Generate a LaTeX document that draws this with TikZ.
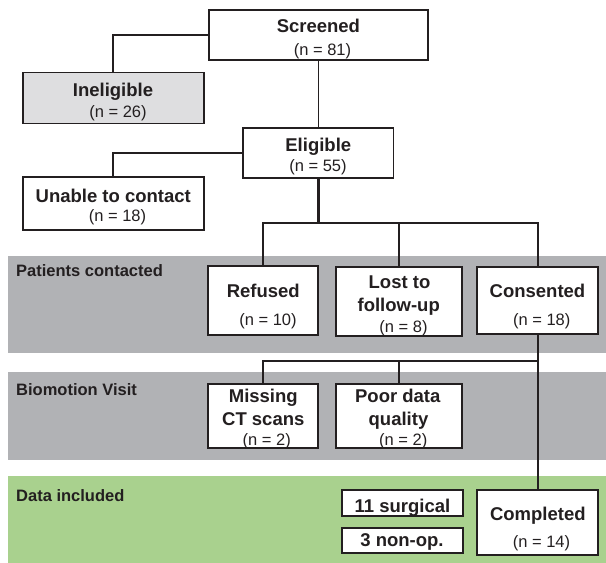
\documentclass[tikz,border=0pt]{standalone}
\usepackage{fontspec}
\setmainfont{Liberation Sans}
\definecolor{ink}{HTML}{231F20}
\definecolor{bandgray}{HTML}{B1B2B5}
\definecolor{inelfill}{HTML}{DEDEE0}
\definecolor{bandgreen}{HTML}{A9D18E}
\tikzset{
  box/.style={draw=ink, line width=1.9pt, fill=white, inner sep=0pt},
  ttl/.style={anchor=base, inner sep=0pt, text=ink, font=\fontsize{18.5}{20}\selectfont\bfseries},
  cnt/.style={anchor=base, inner sep=0pt, text=ink, font=\fontsize{16.5}{18}\selectfont},
  lbl/.style={anchor=base west, inner sep=0pt, text=ink, font=\fontsize{16.5}{18}\selectfont\bfseries},
  conn/.style={draw=ink, line width=1.7pt},
}
\begin{document}
\begin{tikzpicture}[x=1pt,y=-1pt]
\useasboundingbox (0,0) rectangle (606,563);
% bands
\fill[bandgray] (8,256) rectangle (606,352.7);
\fill[bandgray] (8,371.7) rectangle (606,460);
\fill[bandgreen] (8,476) rectangle (606,563);
\node[lbl] (lab1) at (16,276.7) {Patients contacted};
\node[lbl] (lab2) at (16,395) {Biomotion Visit};
\node[lbl] (lab3) at (16,501.7) {Data included};
% boxes
\node[box, minimum width=219.6pt, minimum height=50pt] (scr) at (318.5,34.8) {};
\node[box, fill=inelfill, minimum width=180.5pt, minimum height=51pt] (inel) at (113.3,98) {};
\node[box, minimum width=150.6pt, minimum height=50pt] (elig) at (318.2,152.7) {};
\node[box, minimum width=180.6pt, minimum height=53.3pt] (unab) at (113.3,203.4) {};
\node[box, minimum width=110pt, minimum height=68.5pt] (ref) at (263.3,300.5) {};
\node[box, minimum width=126pt, minimum height=68.7pt] (lost) at (398.7,301.6) {};
\node[box, minimum width=121pt, minimum height=67.3pt] (cons) at (537.8,300.4) {};
\node[box, minimum width=110pt, minimum height=64.3pt] (miss) at (263.3,416.2) {};
\node[box, minimum width=126pt, minimum height=64.3pt] (poor) at (398.7,416.2) {};
\node[box, minimum width=121pt, minimum height=65pt] (comp) at (537.8,522.5) {};
\node[box, minimum width=121pt, minimum height=25.7pt] (surg) at (402.2,502.85) {};
\node[box, minimum width=121pt, minimum height=25.6pt] (nonop) at (402.2,540.5) {};
% connectors
\draw[conn] (scr.west) -| (inel.north);
\draw[conn] (scr.south) -- (scr.south |- elig.north);
\draw[conn] (elig.west) -| (unab.north);
\coordinate (j1) at (318.3,222.7);
\draw[conn, line width=2.4pt] (j1 |- elig.south) -- (j1);
\draw[conn] (ref.north) |- (j1) -| (cons.north);
\draw[conn] (lost.north) -- (lost.north |- j1);
\coordinate (j2) at (537.8,361);
\draw[conn] (cons.south) -- (comp.north);
\draw[conn] (miss.north) |- (j2);
\draw[conn] (poor.north) -- (poor.north |- j2);
% texts
\node[ttl] (scr-a) at (318.4,32.7) {Screened};
\node[cnt] (scr-b) at (322.5,55) {(n = 81)};
\node[ttl] (inel-a) at (113,96) {Ineligible};
\node[cnt] (inel-b) at (118,117) {(n = 26)};
\node[ttl] (elig-a) at (318.3,151) {Eligible};
\node[cnt] (elig-b) at (318,171.5) {(n = 55)};
\node[ttl] (unab-a) at (113.3,202.3) {Unable to contact};
\node[cnt] (unab-b) at (117.5,221.5) {(n = 18)};
\node[ttl] (ref-a) at (263.3,297.8) {Refused};
\node[cnt] (ref-b) at (268,325) {(n = 10)};
\node[ttl] (lost-a) at (399.5,288.3) {Lost to};
\node[ttl] (lost-b) at (398.7,311.7) {follow-up};
\node[cnt] (lost-c) at (403.5,332) {(n = 8)};
\node[ttl] (cons-a) at (537.5,297.5) {Consented};
\node[cnt] (cons-b) at (541.7,325) {(n = 18)};
\node[ttl] (miss-a) at (263.3,402.7) {Missing};
\node[ttl] (miss-b) at (263.3,425) {CT scans};
\node[cnt] (miss-c) at (266.7,445) {(n = 2)};
\node[ttl] (poor-a) at (397.8,402.7) {Poor data};
\node[ttl] (poor-b) at (398.5,425) {quality};
\node[cnt] (poor-c) at (403.3,445) {(n = 2)};
\node[ttl] (surg-a) at (402.5,512.2) {11 surgical};
\node[ttl] (nonop-a) at (402,546.2) {3 non-op.};
\node[ttl] (comp-a) at (537.8,520.5) {Completed};
\node[cnt] (comp-b) at (541.5,547.5) {(n = 14)};
\end{tikzpicture}
\end{document}
